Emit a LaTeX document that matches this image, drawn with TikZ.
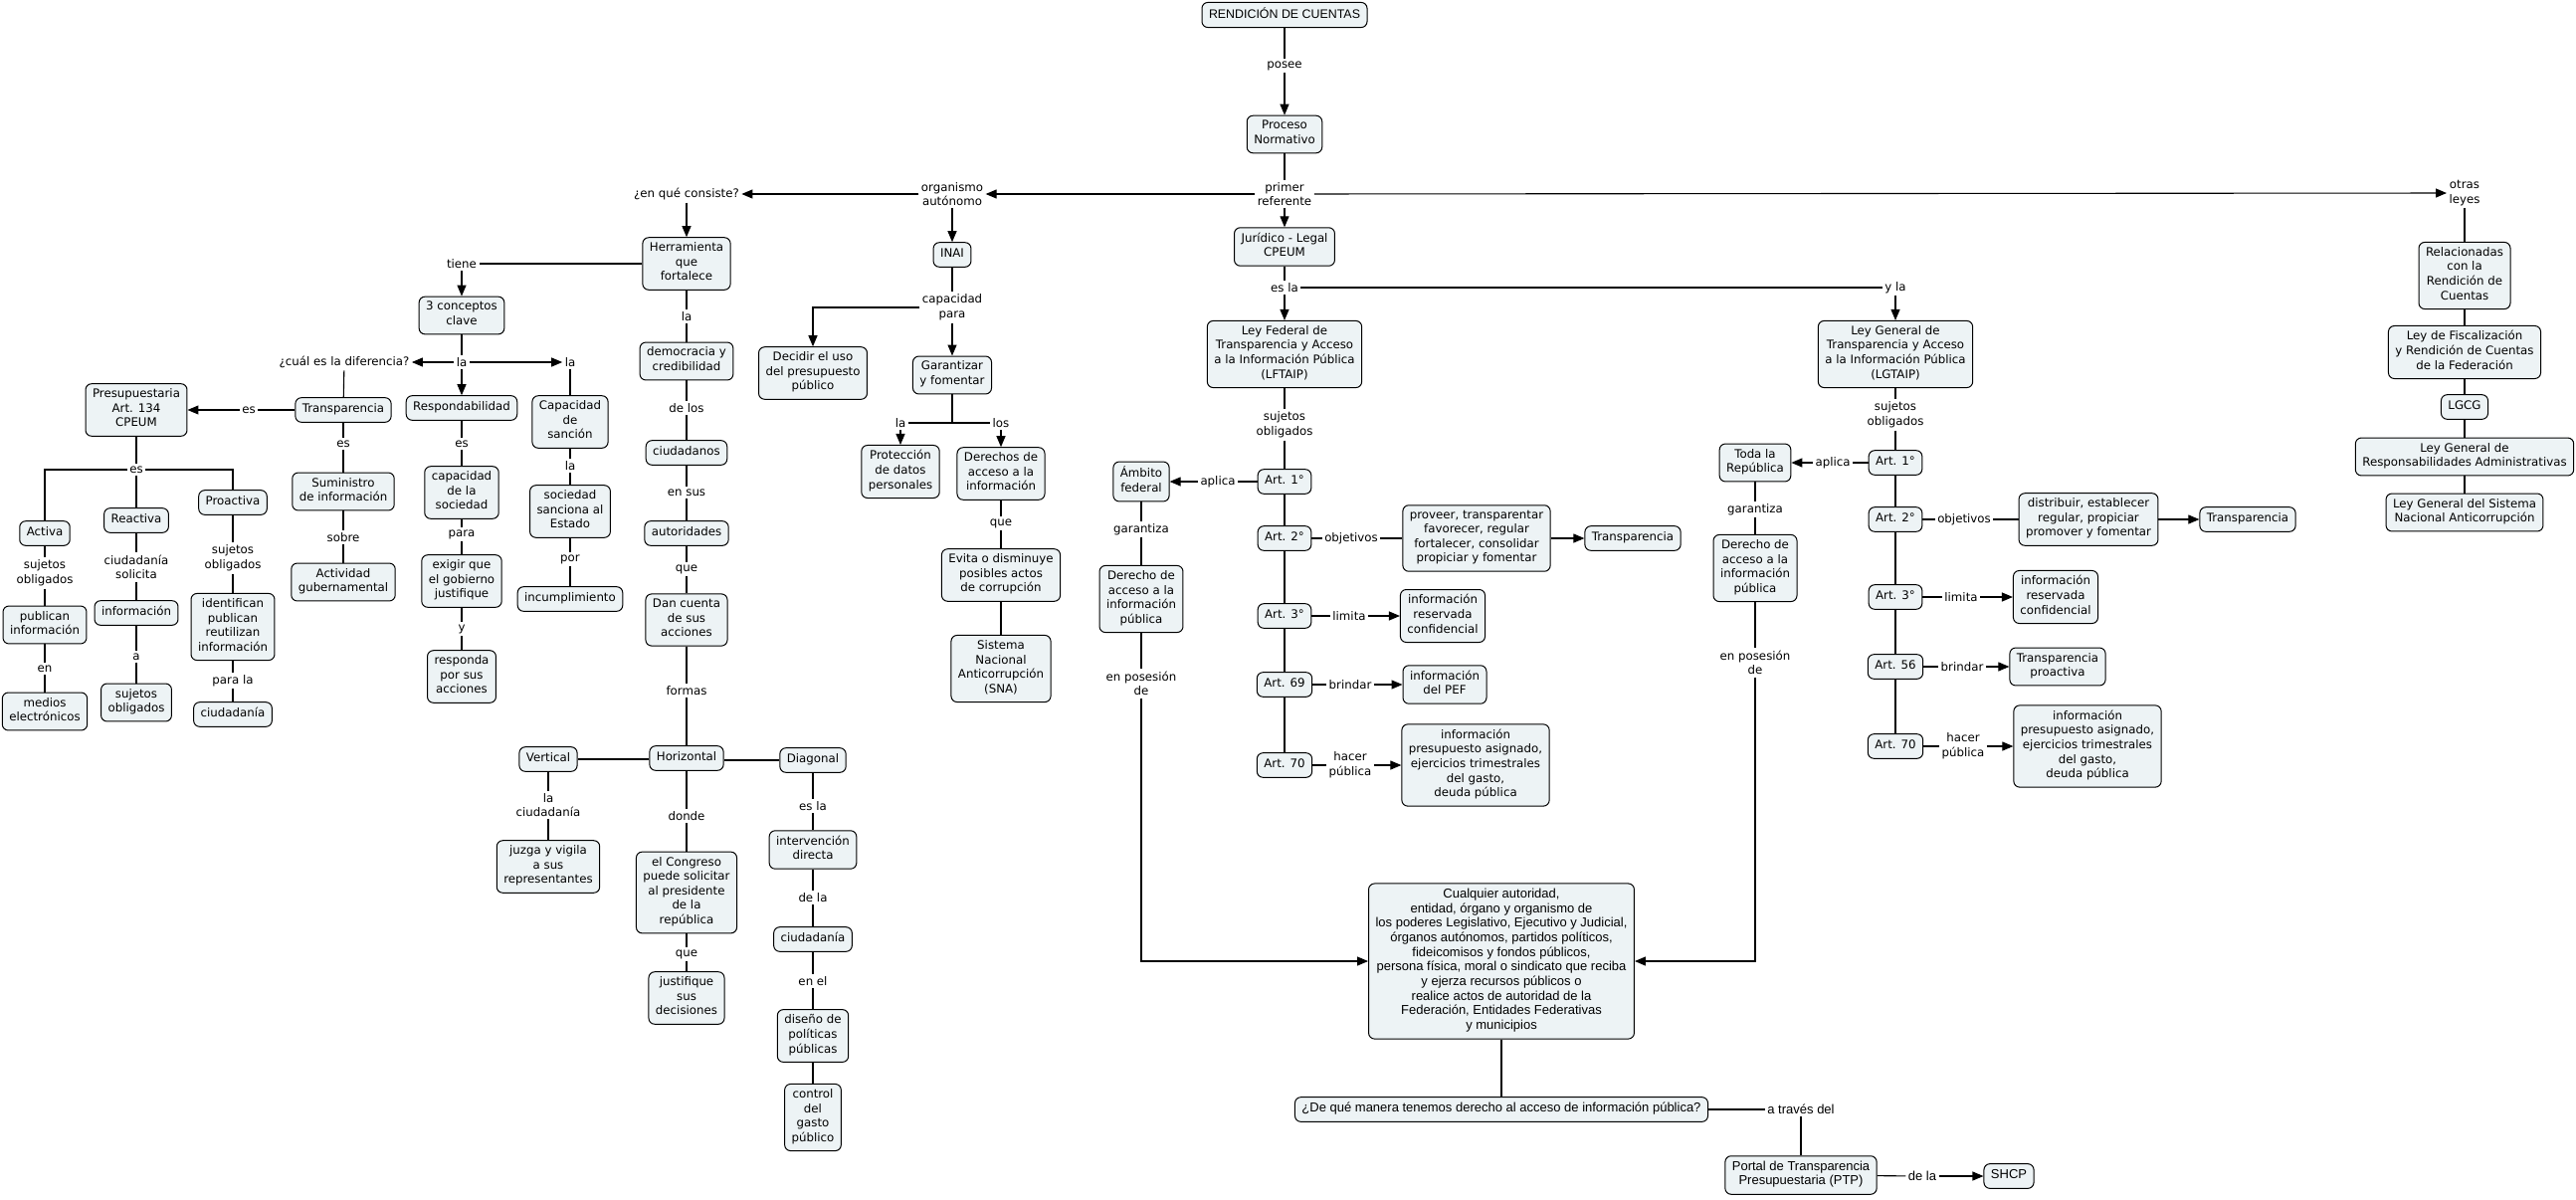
\documentclass[tikz,border=0pt]{standalone}
\usepackage{fontspec}
\setmainfont{DejaVu Sans}
\newfontfamily\tahomafont{Liberation Sans}
\usetikzlibrary{arrows.meta}
\definecolor{cajafondo}{RGB}{237,243,245}

\begin{document}
\begin{tikzpicture}[x=1pt,y=-1pt,line width=1.1pt,>={Triangle[length=11pt,width=9pt]},
  concepto/.style={draw,line width=1pt,rounded corners=6pt,fill=cajafondo,align=center,
    font=\fontsize{11.8}{14.6}\selectfont,inner xsep=7pt,inner ysep=5pt,
    execute at begin node=\strut,execute at end node=\strut},
  enlace/.style={align=center,font=\fontsize{11.8}{14.6}\selectfont,inner sep=2pt},
  angosto/.style={font=\tahomafont\fontsize{13}{14.7}\selectfont}]
\useasboundingbox (0,0) rectangle (2589,1205);
% raíz
\node[concepto,font=\tahomafont\fontsize{12.4}{14.7}\selectfont] (rend) at (1291,15) {RENDICIÓN DE CUENTAS};
\node[enlace] (posee) at (1291,66) {posee};
\node[concepto] (proceso) at (1291,135) {Proceso\\Normativo};
\node[enlace] (primer) at (1291,195) {primer\\referente};
\node[concepto] (juridico) at (1291,248) {Jurídico - Legal\\CPEUM};
\node[enlace] (esla1) at (1291,289) {es la};
\node[enlace] (organismo) at (957,195) {organismo\\autónomo};
\node[enlace] (consiste) at (690,195) {¿en qué consiste?};
\node[enlace] (otras) at (2477,194) {otras\\leyes};

% INAI
\node[concepto] (inai) at (957,256) {INAI};
\node[enlace] (capacidad) at (957,309) {capacidad\\para};
\node[concepto] (decidir) at (817,375) {Decidir el uso\\del presupuesto\\público};
\node[concepto] (garant) at (957,377) {Garantizar\\y fomentar};
\coordinate (gj) at (957,425);
\node[enlace] (la1) at (905,425) {la};
\node[enlace] (los) at (1006,425) {los};
\node[concepto] (proteccion) at (905,474) {Protección\\de datos\\personales};
\node[concepto] (derechos) at (1006,476) {Derechos de\\acceso a la\\información};
\node[enlace] (que1) at (1006,526) {que};
\node[concepto] (evita) at (1006,578) {Evita o disminuye\\posibles actos\\de corrupción};
\node[concepto] (sna) at (1006,672) {Sistema\\Nacional\\Anticorrupción\\(SNA)};

% Herramienta
\node[concepto] (herram) at (690,265) {Herramienta\\que\\fortalece};
\node[enlace] (la5) at (690,318) {la};
\node[concepto] (democracia) at (690,363) {democracia y\\credibilidad};
\node[enlace] (delos) at (690,410) {de los};
\node[concepto] (ciudadanos) at (690,455) {ciudadanos};
\node[enlace] (ensus) at (690,495) {en sus};
\node[concepto] (autoridades) at (690,536) {autoridades};
\node[enlace] (que2) at (690,572) {que};
\node[concepto] (dancuenta) at (690,623) {Dan cuenta\\de sus\\acciones};
\node[enlace] (formas) at (690,694) {formas};
\node[concepto] (horizontal) at (690,762) {Horizontal};
\node[concepto] (vertical) at (551,763) {Vertical};
\node[concepto] (diagonal) at (817,764) {Diagonal};
\node[enlace] (laciud) at (551,809) {la\\ciudadanía};
\node[concepto] (juzga) at (551,871) {juzga y vigila\\a sus\\representantes};
\node[enlace] (donde) at (690,820) {donde};
\node[concepto] (congreso) at (690,897) {el Congreso\\puede solicitar\\al presidente\\de la\\república};
\node[enlace] (que3) at (690,959) {que};
\node[concepto] (justif) at (690,1003) {justifique\\sus\\decisiones};
\node[enlace] (esla2) at (817,810) {es la};
\node[concepto] (intervencion) at (817,854) {intervención\\directa};
\node[enlace] (dela) at (817,902) {de la};
\node[concepto] (ciudadania2) at (817,944) {ciudadanía};
\node[enlace] (enel) at (817,986) {en el};
\node[concepto] (diseno) at (817,1041) {diseño de\\políticas\\públicas};
\node[concepto] (control) at (817,1123) {control\\del\\gasto\\público};

% 3 conceptos clave
\node[enlace] (tiene) at (464,265) {tiene};
\node[concepto] (conceptos) at (464,317) {3 conceptos\\clave};
\node[enlace] (la2) at (464,364) {la};
\node[enlace] (cual) at (346,364) {¿cuál es la diferencia?};
\node[enlace] (la3) at (573,364) {la};
\node[concepto] (respond) at (464,410) {Respondabilidad};
\node[enlace] (es4) at (464,446) {es};
\node[concepto] (capsoc) at (464,495) {capacidad\\de la\\sociedad};
\node[enlace] (para) at (464,537) {para};
\node[concepto] (exigir) at (464,584) {exigir que\\el gobierno\\justifique};
\node[enlace] (y1) at (464,632) {y};
\node[concepto] (responda) at (464,680) {responda\\por sus\\acciones};
\node[concepto] (capsan) at (573,424) {Capacidad\\de\\sanción};
\node[enlace] (la4) at (573,468) {la};
\node[concepto] (sociedad) at (573,514) {sociedad\\sanciona al\\Estado};
\node[enlace] (por) at (573,562) {por};
\node[concepto] (incump) at (573,602) {incumplimiento};

% Transparencia
\node[concepto] (transp) at (345,412) {Transparencia};
\node[enlace] (es1) at (250,412) {es};
\node[concepto] (presup) at (137,412) {Presupuestaria\\Art. 134\\CPEUM};
\node[enlace] (es2) at (345,446) {es};
\node[concepto] (suministro) at (345,494) {Suministro\\de información};
\node[enlace] (sobre) at (345,540) {sobre};
\node[concepto] (actividad) at (345,585) {Actividad\\gubernamental};
\node[enlace] (es3) at (137,472) {es};
\node[concepto] (activa) at (45,536) {Activa};
\node[concepto] (reactiva) at (137,523) {Reactiva};
\node[concepto] (proactiva) at (234,505) {Proactiva};
\node[enlace] (sujeto1) at (45,576) {sujetos\\obligados};
\node[concepto] (publican) at (45,628) {publican\\información};
\node[enlace] (en1) at (45,672) {en};
\node[concepto] (medios) at (45,715) {medios\\electrónicos};
\node[enlace] (ciudsol) at (137,570) {ciudadanía\\solicita};
\node[concepto] (informacion) at (137,616) {información};
\node[enlace] (a1) at (137,660) {a};
\node[concepto] (sujobl) at (137,706) {sujetos\\obligados};
\node[enlace] (sujeto2) at (234,561) {sujetos\\obligados};
\node[concepto] (identifican) at (234,630) {identifican\\publican\\reutilizan\\información};
\node[enlace] (parala) at (234,684) {para la};
\node[concepto] (ciudadania1) at (234,718) {ciudadanía};

% LFTAIP
\node[concepto] (leyfed) at (1291,356) {Ley Federal de\\Transparencia y Acceso\\a la Información Pública\\(LFTAIP)};
\node[enlace] (fsuj) at (1291,427) {sujetos\\obligados};
\node[concepto] (fart1) at (1291,484) {Art. 1°};
\node[concepto] (fart2) at (1291,541) {Art. 2°};
\node[concepto] (fart3) at (1291,619) {Art. 3°};
\node[concepto] (fart69) at (1291,688) {Art. 69};
\node[concepto] (fart70) at (1291,769) {Art. 70};
\node[enlace] (faplica) at (1224,484) {aplica};
\node[concepto] (ambito) at (1147,484) {Ámbito\\federal};
\node[enlace] (fgarant) at (1147,532) {garantiza};
\node[concepto] (fderecho) at (1147,602) {Derecho de\\acceso a la\\información\\pública};
\node[enlace] (fposes) at (1147,687) {en posesión\\de};
\node[enlace] (fobj) at (1358,541) {objetivos};
\node[concepto] (proveer) at (1484,541) {proveer, transparentar\\favorecer, regular\\fortalecer, consolidar\\propiciar y fomentar};
\node[concepto] (ftransp) at (1641,541) {Transparencia};
\node[enlace] (flimita) at (1356,619) {limita};
\node[concepto] (freserv) at (1450,619) {información\\reservada\\confidencial};
\node[enlace] (fbrindar) at (1357,688) {brindar};
\node[concepto] (fpef) at (1452,688) {información\\del PEF};
\node[enlace] (fhacer) at (1357,769) {hacer\\pública};
\node[concepto] (fpresup) at (1483,769) {información\\presupuesto asignado,\\ejercicios trimestrales\\del gasto,\\deuda pública};

% LGTAIP
\node[enlace] (yla) at (1905,289) {y la};
\node[concepto] (leygen) at (1905,356) {Ley General de\\Transparencia y Acceso\\a la Información Pública\\(LGTAIP)};
\node[enlace] (gsuj) at (1905,417) {sujetos\\obligados};
\node[concepto] (gart1) at (1905,465) {Art. 1°};
\node[concepto] (gart2) at (1905,522) {Art. 2°};
\node[concepto] (gart3) at (1905,600) {Art. 3°};
\node[concepto] (gart56) at (1905,670) {Art. 56};
\node[concepto] (gart70) at (1905,750) {Art. 70};
\node[enlace] (gaplica) at (1842,465) {aplica};
\node[concepto] (toda) at (1764,465) {Toda la\\República};
\node[enlace] (ggarant) at (1764,512) {garantiza};
\node[concepto] (gderecho) at (1764,571) {Derecho de\\acceso a la\\información\\pública};
\node[enlace] (gposes) at (1764,666) {en posesión\\de};
\node[enlace] (gobj) at (1974,522) {objetivos};
\node[concepto] (distribuir) at (2099,522) {distribuir, establecer\\regular, propiciar\\promover y fomentar};
\node[concepto] (gtransp) at (2259,522) {Transparencia};
\node[enlace] (glimita) at (1971,600) {limita};
\node[concepto] (greserv) at (2066,600) {información\\reservada\\confidencial};
\node[enlace] (gbrindar) at (1972,670) {brindar};
\node[concepto] (gproact) at (2068,670) {Transparencia\\proactiva};
\node[enlace] (ghacer) at (1973,750) {hacer\\pública};
\node[concepto] (gpresup) at (2098,750) {información\\presupuesto asignado,\\ejercicios trimestrales\\del gasto,\\deuda pública};

% otras leyes
\node[concepto] (relac) at (2477,277) {Relacionadas\\con la\\Rendición de\\Cuentas};
\node[concepto] (fiscal) at (2477,354) {Ley de Fiscalización\\y Rendición de Cuentas\\de la Federación};
\node[concepto] (lgcg) at (2477,409) {LGCG};
\node[concepto] (resp) at (2477,459) {Ley General de\\Responsabilidades Administrativas};
\node[concepto] (sna2) at (2477,515) {Ley General del Sistema\\Nacional Anticorrupción};

% sujetos obligados y PTP
\node[concepto,angosto] (cualquier) at (1509,966) {Cualquier autoridad,\\entidad, órgano y organismo de\\los poderes Legislativo, Ejecutivo y Judicial,\\órganos autónomos, partidos políticos,\\fideicomisos y fondos públicos,\\persona física, moral o sindicato que reciba\\y ejerza recursos públicos o\\realice actos de autoridad de la\\Federación, Entidades Federativas\\y municipios};
\node[concepto,angosto] (manera) at (1509,1115) {¿De qué manera tenemos derecho al acceso de información pública?};
\node[enlace,angosto] (atraves) at (1810,1115) {a través del};
\node[concepto,angosto] (portal) at (1810,1181) {Portal de Transparencia\\Presupuestaria (PTP)};
\node[enlace,angosto] (dela2) at (1932,1182) {de la};
\node[concepto,angosto] (shcp) at (2019,1182) {SHCP};

% conectores: tronco
\draw (rend) -- (posee);
\draw[->] (posee) -- (proceso);
\draw (proceso) -- (primer);
\draw[->] (primer) -- (juridico);
\draw[->] (primer) -- (organismo);
\draw[->] (primer) -- (otras);
\draw[->] (organismo) -- (consiste);
\draw[->] (organismo) -- (inai);
\draw[->] (consiste) -- (herram);
\draw (juridico) -- (esla1);
\draw[->] (esla1) -- (leyfed);
\draw (esla1) -- (yla);
\draw[->] (yla) -- (leygen);

% conectores: INAI
\draw (inai) -- (capacidad);
\draw[->] (capacidad) -| (decidir);
\draw[->] (capacidad) -- (garant);
\draw (garant) -- (gj);
\draw (gj) -- (la1);
\draw (gj) -- (los);
\draw[->] (la1) -- (proteccion);
\draw[->] (los) -- (derechos);
\draw (derechos) -- (que1) -- (evita) -- (sna);

% conectores: Herramienta
\draw (herram) -- (la5) -- (democracia) -- (delos) -- (ciudadanos) -- (ensus) -- (autoridades) -- (que2) -- (dancuenta) -- (formas) -- (horizontal);
\draw (horizontal.west |- vertical) -- (vertical);
\draw (horizontal.east |- diagonal) -- (diagonal);
\draw (vertical) -- (laciud) -- (juzga);
\draw (horizontal) -- (donde) -- (congreso) -- (que3) -- (justif);
\draw (diagonal) -- (esla2) -- (intervencion) -- (dela) -- (ciudadania2) -- (enel) -- (diseno) -- (control);

% conectores: conceptos clave
\draw (herram) -- (tiene);
\draw[->] (tiene) -- (conceptos);
\draw (conceptos) -- (la2);
\draw[->] (la2) -- (cual);
\draw[->] (la2) -- (la3);
\draw[->] (la2) -- (respond);
\draw (respond) -- (es4) -- (capsoc) -- (para) -- (exigir) -- (y1) -- (responda);
\draw (la3) -- (capsan) -- (la4) -- (sociedad) -- (por) -- (incump);
\draw (cual) -- (transp);
\draw (transp) -- (es1);
\draw[->] (es1) -- (presup);
\draw (transp) -- (es2) -- (suministro) -- (sobre) -- (actividad);
\draw (presup) -- (es3);
\draw (es3) -| (activa);
\draw (es3) -- (reactiva);
\draw (es3) -| (proactiva);
\draw (activa) -- (sujeto1) -- (publican) -- (en1) -- (medios);
\draw (reactiva) -- (ciudsol) -- (informacion) -- (a1) -- (sujobl);
\draw (proactiva) -- (sujeto2) -- (identifican) -- (parala) -- (ciudadania1);

% conectores: LFTAIP
\draw (leyfed) -- (fsuj) -- (fart1) -- (fart2) -- (fart3) -- (fart69) -- (fart70);
\draw (fart1) -- (faplica);
\draw[->] (faplica) -- (ambito);
\draw (ambito) -- (fgarant) -- (fderecho) -- (fposes);
\draw[->] (fposes) |- (cualquier);
\draw (fart2) -- (fobj) -- (proveer);
\draw[->] (proveer) -- (ftransp);
\draw (fart3) -- (flimita);
\draw[->] (flimita) -- (freserv);
\draw (fart69) -- (fbrindar);
\draw[->] (fbrindar) -- (fpef);
\draw (fart70) -- (fhacer);
\draw[->] (fhacer) -- (fpresup);

% conectores: LGTAIP
\draw (leygen) -- (gsuj) -- (gart1) -- (gart2) -- (gart3) -- (gart56) -- (gart70);
\draw (gart1) -- (gaplica);
\draw[->] (gaplica) -- (toda);
\draw (toda) -- (ggarant) -- (gderecho) -- (gposes);
\draw[->] (gposes) |- (cualquier);
\draw (gart2) -- (gobj) -- (distribuir);
\draw[->] (distribuir) -- (gtransp);
\draw (gart3) -- (glimita);
\draw[->] (glimita) -- (greserv);
\draw (gart56) -- (gbrindar);
\draw[->] (gbrindar) -- (gproact);
\draw (gart70) -- (ghacer);
\draw[->] (ghacer) -- (gpresup);

% conectores: otras leyes y PTP
\draw (otras) -- (relac) -- (fiscal) -- (lgcg) -- (resp) -- (sna2);
\draw (cualquier) -- (manera);
\draw (manera) -- (atraves) -- (portal);
\draw (portal) -- (dela2);
\draw[->] (dela2) -- (shcp);
\end{tikzpicture}
\end{document}
